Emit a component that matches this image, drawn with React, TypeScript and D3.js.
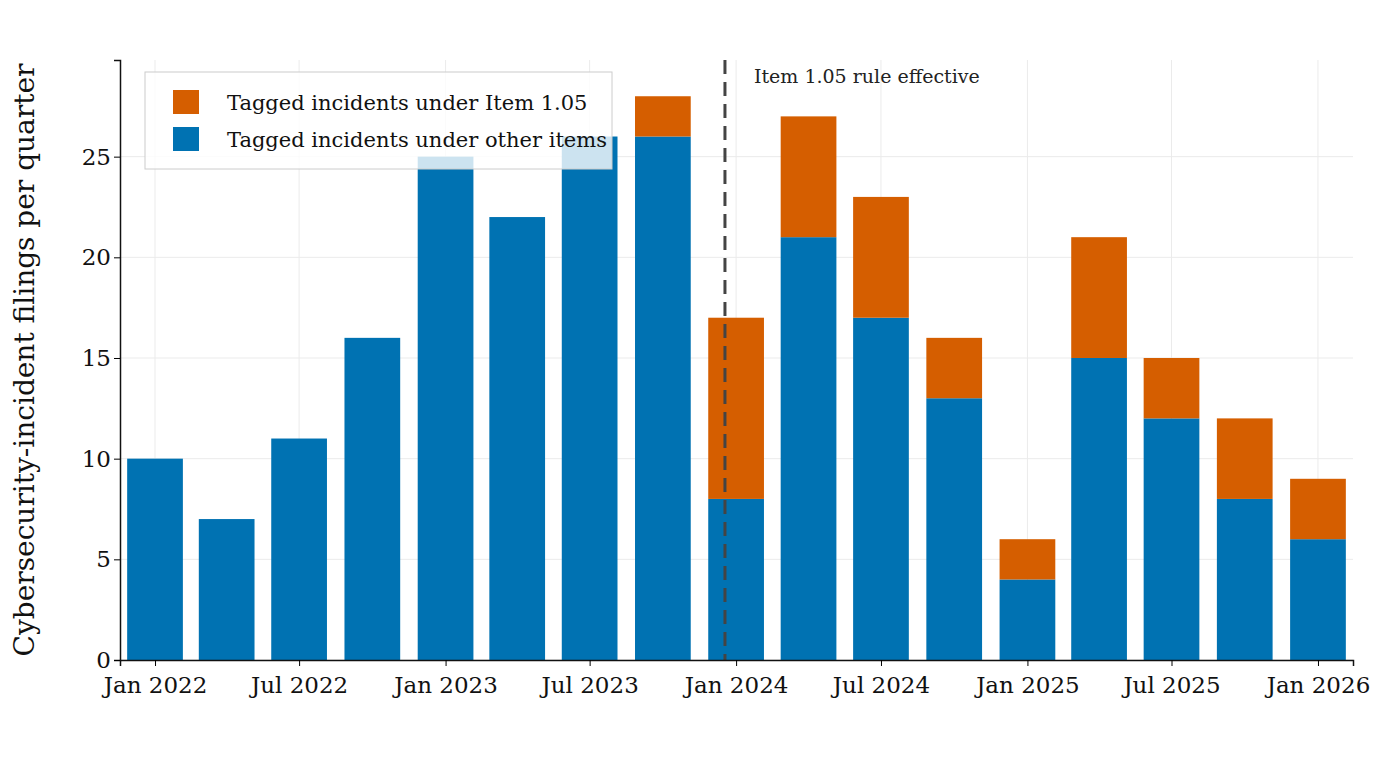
import { useEffect, useRef } from 'react'
import * as d3 from 'd3'

const quarters = [
  '2022-01-01', '2022-04-01', '2022-07-01', '2022-10-01',
  '2023-01-01', '2023-04-01', '2023-07-01', '2023-10-01',
  '2024-01-01', '2024-04-01', '2024-07-01', '2024-10-01',
  '2025-01-01', '2025-04-01', '2025-07-01', '2025-10-01',
  '2026-01-01',
]
const otherItems = [10, 7, 11, 16, 25, 22, 26, 26, 8, 21, 17, 13, 4, 15, 12, 8, 6]
const item105 = [0, 0, 0, 0, 0, 0, 0, 2, 9, 6, 6, 3, 2, 6, 3, 4, 3]
const yTicks = [0, 5, 10, 15, 20, 25]
const ruleDate = '2023-12-18'
const legendLabels = ['Tagged incidents under Item 1.05', 'Tagged incidents under other items']

const BLUE = '#0072b2'
const ORANGE = '#d55e00'
const FONT = "Georgia, 'DejaVu Serif', serif"

export default function App() {
  const ref = useRef<SVGSVGElement | null>(null)

  useEffect(() => {
    if (!ref.current) return
    const svg = d3.select(ref.current)
    svg.selectAll('*').remove()

    const width = 1400
    const height = 760
    const margin = { top: 60, right: 47, bottom: 100, left: 120 }
    const parse = d3.utcParse('%Y-%m-%d')
    const dates = quarters.map(q => parse(q)!)

    const x = d3.scaleUtc()
      .domain([parse('2021-11-18')!, parse('2026-02-14')!])
      .range([margin.left, width - margin.right])
    const y = d3.scaleLinear().domain([0, 29.8]).range([height - margin.bottom, margin.top])

    const xTicks = d3.utcMonth.every(6)!.range(parse('2022-01-01')!, parse('2026-01-02')!)
    const barW = x(parse('2022-03-12')!) - x(parse('2022-01-01')!)

    // grid
    const grid = svg.append('g').attr('stroke', '#ebebeb').attr('stroke-width', 1)
    xTicks.forEach(t => grid.append('line').attr('x1', x(t)).attr('x2', x(t)).attr('y1', margin.top).attr('y2', height - margin.bottom))
    yTicks.forEach(t => grid.append('line').attr('x1', margin.left).attr('x2', width - margin.right).attr('y1', y(t)).attr('y2', y(t)))

    // bars
    dates.forEach((d, i) => {
      const cx = x(d)
      svg.append('rect').attr('x', cx - barW / 2).attr('width', barW)
        .attr('y', y(otherItems[i])).attr('height', y(0) - y(otherItems[i])).attr('fill', BLUE)
      if (item105[i] > 0) {
        const top = otherItems[i] + item105[i]
        svg.append('rect').attr('x', cx - barW / 2).attr('width', barW)
          .attr('y', y(top)).attr('height', y(otherItems[i]) - y(top)).attr('fill', ORANGE)
      }
    })

    // rule line
    const rx = x(parse(ruleDate)!)
    svg.append('line').attr('x1', rx).attr('x2', rx).attr('y1', margin.top).attr('y2', height - margin.bottom)
      .attr('stroke', '#444').attr('stroke-width', 3).attr('stroke-dasharray', '14,8')
    svg.append('text').attr('x', rx + 29).attr('y', 83).attr('font-family', FONT).attr('font-size', 19)
      .attr('fill', '#222').text('Item 1.05 rule effective')

    // axes
    const xAxis = svg.append('g').attr('transform', `translate(0,${height - margin.bottom})`)
      .call(d3.axisBottom(x).tickValues(xTicks).tickFormat(d => d3.utcFormat('%b %Y')(d as Date)).tickSizeOuter(0).tickSize(6))
    xAxis.selectAll('text').attr('font-family', FONT).attr('font-size', 23).attr('fill', '#111').attr('dy', '1.05em')
    xAxis.select('.domain').attr('stroke', '#111').attr('stroke-width', 1.5)

    const yAxis = svg.append('g').attr('transform', `translate(${margin.left},0)`)
      .call(d3.axisLeft(y).tickValues(yTicks).tickSizeOuter(0).tickSize(6))
    yAxis.selectAll('text').attr('font-family', FONT).attr('font-size', 23).attr('fill', '#111')
    yAxis.select('.domain').attr('stroke', '#111').attr('stroke-width', 1.5)

    svg.append('text').attr('transform', `translate(34,${(margin.top + height - margin.bottom) / 2}) rotate(-90)`)
      .attr('text-anchor', 'middle').attr('font-family', FONT).attr('font-size', 28).attr('fill', '#111')
      .text('Cybersecurity-incident filings per quarter')

    // legend
    const lg = svg.append('g').attr('transform', 'translate(145,72)')
    lg.append('rect').attr('width', 467).attr('height', 97).attr('fill', 'white').attr('fill-opacity', 0.8)
      .attr('stroke', '#ccc')
    ;[ORANGE, BLUE].forEach((c, i) => {
      lg.append('rect').attr('x', 28).attr('y', 18 + i * 37).attr('width', 26).attr('height', 24).attr('fill', c)
      lg.append('text').attr('x', 82).attr('y', 38 + i * 37).attr('font-family', FONT).attr('font-size', 21)
        .attr('fill', '#111').text(legendLabels[i])
    })
  }, [])

  return <svg ref={ref} width={1400} height={760} style={{ display: 'block', margin: -8 }} />
}
